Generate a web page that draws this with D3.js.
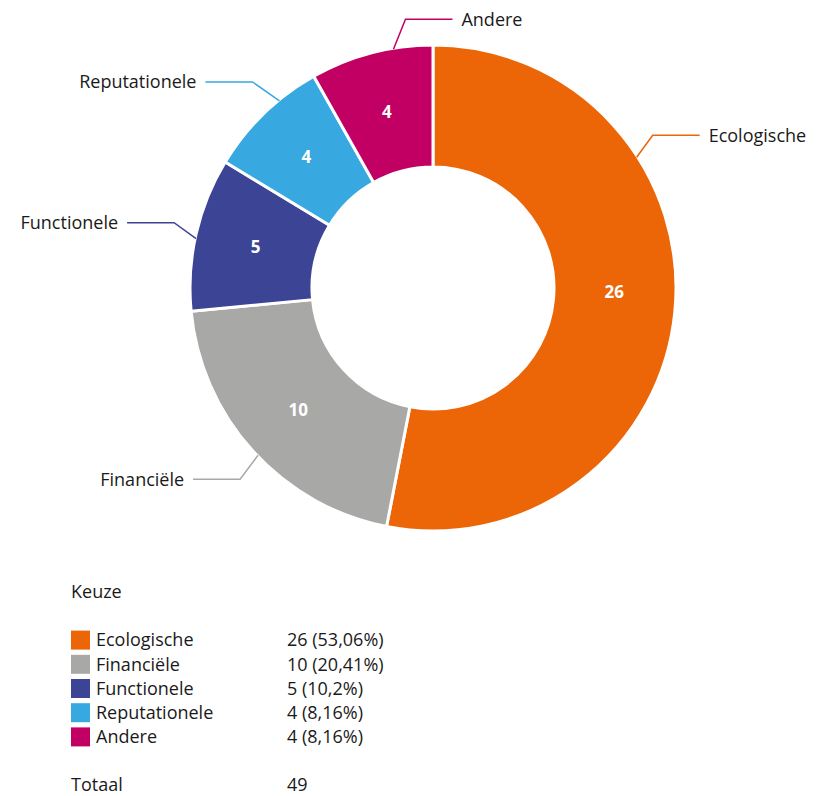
<!DOCTYPE html>
<html>
<head>
<meta charset="utf-8">
<script src="https://cdn.jsdelivr.net/npm/d3@7"></script>
<style>
  body { margin: 0; background: #fff; }
  svg text { font-family: "Open Sans", sans-serif; fill: #1a1a1a; }
</style>
</head>
<body>
<div id="chart"></div>
<script>
"use strict";

const categories = ["Ecologische", "Financiële", "Functionele", "Reputationele", "Andere"];
const values = [26, 10, 5, 4, 4];
const shares = ["53,06%", "20,41%", "10,2%", "8,16%", "8,16%"];
const colors = ["#EC6608", "#A8A8A7", "#3C4496", "#38A9E0", "#C20063"];
const legendTitle = "Keuze";
const totalLabel = "Totaal";

const W = 828;
const H = 796;
const cx = 433;
const cy = 288;
const rOuter = 243;
const rInner = 121;
const fontSize = "18px";

// where each outside label hooks onto its slice (fraction of slice span),
// which side it sits on and how far the elbow is from the anchor
const labelLayout = [
  { frac: 0.30, side: 1, dx: 16, dy: -22 },
  { frac: 0.48, side: -1, dx: -18, dy: 24 },
  { frac: 0.47, side: -1, dx: -22, dy: -16 },
  { frac: 0.66, side: -1, dx: -27, dy: -19 },
  { frac: 0.68, side: 1, dx: 12, dy: -30 },
];

const data = categories.map((c, i) => ({ name: c, value: values[i], share: shares[i], color: colors[i] }));

const svg = d3.select("#chart").append("svg").attr("width", W).attr("height", H);

const pie = d3.pie().sort(null).value((d) => d.value);
const arcs = pie(data);

const arc = d3.arc().innerRadius(rInner).outerRadius(rOuter);

const g = svg.append("g").attr("transform", `translate(${cx},${cy})`);

g.selectAll("path.slice")
  .data(arcs)
  .enter()
  .append("path")
  .attr("class", "slice")
  .attr("d", arc)
  .attr("fill", (d) => d.data.color)
  .attr("stroke", "#fff")
  .attr("stroke-width", 3)
  .attr("stroke-linejoin", "round");

// values inside slices (the big slice's number sits a bit higher)
g.selectAll("text.val")
  .data(arcs)
  .enter()
  .append("text")
  .attr("class", "val")
  .attr("x", (d) => arc.centroid(d)[0])
  .attr("y", (d, i) => arc.centroid(d)[1] - (i === 0 ? 13 : 0))
  .attr("text-anchor", "middle")
  .attr("dy", "0.35em")
  .style("fill", "#fff")
  .style("font-weight", "bold")
  .style("font-size", "17px")
  .text((d) => d.value);

// outside labels with elbow connectors
arcs.forEach((d, i) => {
  const lay = labelLayout[i];
  const a = d.startAngle + (d.endAngle - d.startAngle) * lay.frac;
  const r0 = rOuter - 1;
  const ax = Math.sin(a) * r0;
  const ay = -Math.cos(a) * r0;
  const bx = ax + lay.dx;
  const by = ay + lay.dy;
  const ex = bx + lay.side * 47;
  g.append("polyline")
    .attr("points", [[ax, ay], [bx, by], [ex, by]].map((p) => p.join(",")).join(" "))
    .attr("fill", "none")
    .attr("stroke", d.data.color)
    .attr("stroke-width", 1.5);
  g.append("text")
    .attr("x", ex + lay.side * 9)
    .attr("y", by)
    .attr("dy", "0.35em")
    .attr("text-anchor", lay.side > 0 ? "start" : "end")
    .style("font-size", fontSize)
    .text(d.data.name);
});

// legend table
const lx = 71;
const vx = 287;
svg.append("text").attr("x", lx).attr("y", 592).attr("dy", "0.35em").style("font-size", fontSize).text(legendTitle);

const rowY = d3.scaleBand().domain(categories).range([628, 749]).paddingInner(0);

const rows = svg.selectAll("g.row").data(data).enter().append("g").attr("class", "row")
  .attr("transform", (d) => `translate(0,${rowY(d.name) + rowY.bandwidth() / 2})`);

rows.append("rect").attr("x", lx).attr("y", -9.5).attr("width", 19).attr("height", 19).attr("fill", (d) => d.color);
rows.append("text").attr("x", 96).attr("dy", "0.35em").style("font-size", fontSize).text((d) => d.name);
rows.append("text").attr("x", vx).attr("dy", "0.35em").style("font-size", fontSize).text((d) => `${d.value} (${d.share})`);

svg.append("text").attr("x", lx).attr("y", 785).attr("dy", "0.35em").style("font-size", fontSize).text(totalLabel);
svg.append("text").attr("x", vx).attr("y", 785).attr("dy", "0.35em").style("font-size", fontSize).text(d3.sum(values));
</script>
</body>
</html>
